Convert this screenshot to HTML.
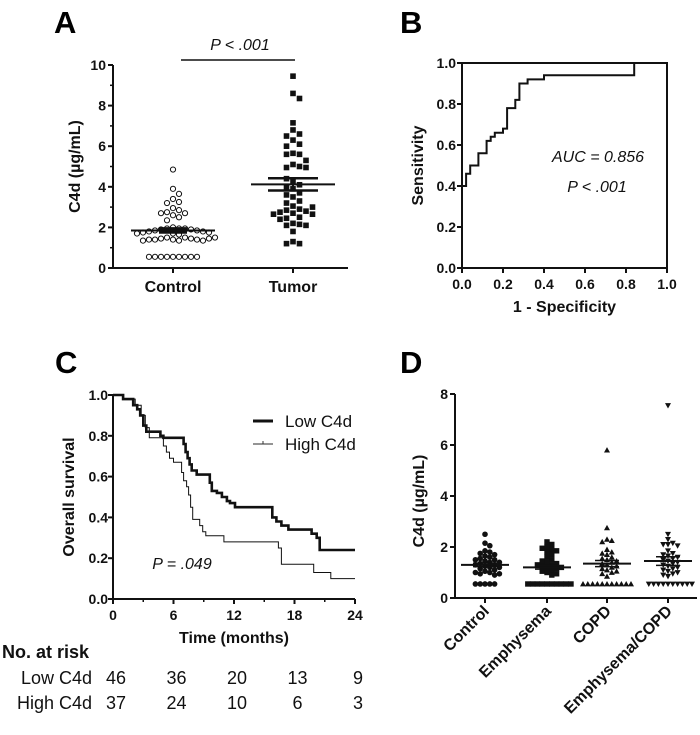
<!DOCTYPE html>
<html><head><meta charset="utf-8">
<style>
html,body{margin:0;padding:0;background:#fff;}
svg{display:block;font-family:"Liberation Sans",Arial,sans-serif;}
.t{font-size:14px;font-weight:bold;fill:#111;}
.ti{font-size:16px;font-weight:bold;fill:#111;}
.lab{font-size:31px;font-weight:bold;fill:#000;}
.it{font-size:16px;font-style:italic;fill:#111;}
.r{font-size:17px;fill:#111;}
.rr{font-size:18px;fill:#111;}
</style></head>
<body>
<svg id="fig" width="700" height="735" viewBox="0 0 700 735" xmlns="http://www.w3.org/2000/svg">
<g id="A"></g>
<g id="B"></g>
<g id="C"></g>
<g id="D"></g>
</svg>
<script>
// ---------- Panel A data ----------
const aCategories = ["Control","Tumor"];
const aControl = [4.85,3.9,3.65,3.4,3.25,3.2,2.95,2.85,2.75,2.7,2.7,2.6,2.5,2.35,2.0,1.95,1.95,1.95,1.9,1.9,1.85,1.85,1.8,1.8,1.75,1.75,1.7,1.7,1.65,1.5,1.5,1.45,1.45,1.4,1.4,1.4,1.4,1.35,1.35,1.35,1.45,1.5,0.55,0.55,0.55,0.55,0.55,0.55,0.55,0.55,0.55];
const aTumor = [9.45,8.6,8.35,7.15,6.8,6.6,6.5,6.3,6.1,5.65,5.6,5.6,5.1,5.0,4.95,4.95,4.3,4.1,4.0,3.9,3.7,3.5,3.3,3.05,2.9,2.85,2.8,2.75,2.7,2.65,2.65,2.5,2.45,2.2,2.15,2.1,2.1,1.8,1.3,1.2,1.2,3.6,4.4,3.2,2.4,5.3,6.0,3.0];
const aMeans = [1.85,4.12];
const aSem = [0.1,0.3];
const aYTicks = [0,2,4,6,8,10];
// ---------- Panel B data ----------
const bFpr = [0,0,0.02,0.02,0.04,0.04,0.08,0.08,0.12,0.12,0.14,0.14,0.16,0.16,0.2,0.2,0.22,0.22,0.26,0.26,0.28,0.28,0.32,0.32,0.4,0.4,0.84,0.84,1.0];
const bTpr = [0,0.4,0.4,0.46,0.46,0.5,0.5,0.56,0.56,0.62,0.62,0.64,0.64,0.66,0.66,0.68,0.68,0.78,0.78,0.82,0.82,0.9,0.9,0.92,0.92,0.94,0.94,1.0,1.0];
const bTicks = [0,0.2,0.4,0.6,0.8,1.0];
// ---------- Panel C data ----------
const cLowT = [0,1,2,2.4,2.7,3.0,3.3,4.7,5.0,7.0,7.2,7.4,7.6,7.8,8.3,9.6,9.8,10.3,10.8,11.3,11.6,12.1,15.8,16.2,16.7,17.4,19.7,20.2,20.5,24];
const cLowS = [1.0,0.98,0.95,0.93,0.9,0.85,0.82,0.8,0.79,0.76,0.72,0.69,0.66,0.63,0.61,0.57,0.53,0.52,0.5,0.48,0.47,0.45,0.4,0.38,0.36,0.34,0.32,0.3,0.24,0.24];
const cHighT = [0,1,2.2,2.8,3.2,3.6,5.0,5.3,5.6,6.0,6.8,7.0,7.3,7.5,7.7,7.9,8.6,8.9,9.2,11.0,16.4,16.7,19.9,21.6,24];
const cHighS = [1.0,0.98,0.95,0.9,0.84,0.79,0.75,0.72,0.69,0.67,0.62,0.58,0.55,0.51,0.45,0.39,0.36,0.33,0.31,0.28,0.25,0.17,0.13,0.1,0.1];
const cXTicks = [0,6,12,18,24];
const cYTicks = [0,0.2,0.4,0.6,0.8,1.0];
const cRiskLow = [46,36,20,13,9];
const cRiskHigh = [37,24,10,6,3];
// ---------- Panel D data ----------
const dCategories = ["Control","Emphysema","COPD","Emphysema/COPD"];
const dControl = [2.5,2.15,2.05,1.85,1.8,1.75,1.7,1.65,1.6,1.55,1.5,1.5,1.45,1.4,1.4,1.35,1.3,1.3,1.25,1.2,1.2,1.15,1.1,1.05,1.0,1.0,0.95,0.95,0.9,0.55,0.55,0.55,0.55,0.55];
const dEmph = [2.2,2.1,2.0,1.95,1.9,1.85,1.8,1.7,1.6,1.5,1.45,1.4,1.35,1.3,1.3,1.25,1.2,1.2,1.15,1.1,1.05,1.0,0.95,0.9,0.55,0.55,0.55,0.55,0.55,0.55,0.55,0.55,0.55,0.55];
const dCopd = [5.8,2.75,2.3,2.25,2.2,1.9,1.8,1.75,1.7,1.6,1.55,1.5,1.45,1.4,1.35,1.3,1.25,1.2,1.15,1.1,1.05,1.0,0.95,0.85,0.55,0.55,0.55,0.55,0.55,0.55,0.55,0.55,0.55,0.55,0.55];
const dEC = [7.55,2.5,2.3,2.15,2.1,2.1,2.05,1.85,1.75,1.7,1.65,1.6,1.55,1.5,1.45,1.4,1.35,1.3,1.25,1.2,1.15,1.1,1.05,1.0,0.95,0.9,0.85,0.55,0.55,0.55,0.55,0.55,0.55,0.55,0.55,0.55,0.55];
const dMeans = [1.3,1.2,1.35,1.45];
const dSem = [0.07,0.07,0.12,0.17];
const dYTicks = [0,2,4,6,8];

const NS="http://www.w3.org/2000/svg";
function mk(parent,tag,attrs,text){const e=document.createElementNS(NS,tag);for(const k in attrs)e.setAttribute(k,attrs[k]);if(text!==undefined)e.textContent=text;parent.appendChild(e);return e;}

function swarm(vals,cx,ys,d,step){
  const placed=[];const xs=[];
  vals.forEach(v=>{const y=ys(v);let k=0;let x=cx;
    while(true){const off=Math.ceil(k/2)*step*(k%2?1:-1);x=cx+off;
      if(!placed.some(p=>Math.hypot(p[0]-x,p[1]-y)<d))break;k++;if(k>80)break;}
    placed.push([x,y]);xs.push(x);});
  return xs;
}

// ================= Panel A =================
(function(){
const g=document.getElementById('A');
const x0=113,x1=348,y0=268,yTop=65;
const ys=v=>y0-(v/10)*(y0-yTop);
const xc=[173,293];
let t=mk(g,'text',{x:54,y:33,class:'lab'},'A');

let ax=mk(g,'path',{d:`M${x0} ${yTop}V${y0}H${x1}`,stroke:'#111','stroke-width':2,fill:'none'});

for(let v=1;v<10;v+=2){mk(g,'line',{x1:x0-3,x2:x0,y1:ys(v),y2:ys(v),stroke:'#111','stroke-width':1.5});}
aYTicks.forEach(v=>{mk(g,'line',{x1:x0-5,x2:x0,y1:ys(v),y2:ys(v),stroke:'#111','stroke-width':2});
 const l=mk(g,'text',{x:x0-7,y:ys(v)+5,class:'t','text-anchor':'end'},String(v));
 });
aCategories.forEach((c,i)=>{mk(g,'line',{x1:xc[i],x2:xc[i],y1:y0,y2:y0+5,stroke:'#111','stroke-width':2});
 const l=mk(g,'text',{x:xc[i],y:y0+24,class:'ti','text-anchor':'middle'},c);
 });
const yt=mk(g,'text',{transform:`translate(80,${(y0+yTop)/2}) rotate(-90)`,class:'ti','text-anchor':'middle'},'C4d (µg/mL)');

const xsC=swarm(aControl,xc[0],ys,6,6);
aControl.forEach((v,i)=>{const c=mk(g,'circle',{cx:xsC[i],cy:ys(v),r:2.6,fill:'#fff',stroke:'#111','stroke-width':1});
 });
const xsT=swarm(aTumor,xc[1],ys,6.5,6.5);
aTumor.forEach((v,i)=>{const r=mk(g,'rect',{x:xsT[i]-2.8,y:ys(v)-2.8,width:5.6,height:5.6,fill:'#111'});
 });
aMeans.forEach((m,i)=>{const w=42,cw=i?25:14;
 const ml=mk(g,'line',{x1:xc[i]-w,x2:xc[i]+w,y1:ys(m),y2:ys(m),stroke:'#111','stroke-width':2});
 
 mk(g,'line',{x1:xc[i],x2:xc[i],y1:ys(m+aSem[i]),y2:ys(m-aSem[i]),stroke:'#111','stroke-width':2});
 [1,-1].forEach(s=>mk(g,'line',{x1:xc[i]-cw,x2:xc[i]+cw,y1:ys(m+s*aSem[i]),y2:ys(m+s*aSem[i]),stroke:'#111','stroke-width':2.5}));});
mk(g,'line',{x1:181,x2:295,y1:60,y2:60,stroke:'#111','stroke-width':1.5});
const p=mk(g,'text',{x:240,y:50,class:'it','text-anchor':'middle'},'P < .001');

})();

// ================= Panel B =================
(function(){
const g=document.getElementById('B');
const x0=462,x1=667,y0=268,y1=63;
const xs=v=>x0+v*(x1-x0), ys=v=>y0-v*(y0-y1);
let t=mk(g,'text',{x:400,y:33,class:'lab'},'B');

const f=mk(g,'rect',{x:x0,y:y1,width:x1-x0,height:y0-y1,fill:'none',stroke:'#111','stroke-width':2});

bTicks.forEach(v=>{
 mk(g,'line',{x1:x0-5,x2:x0,y1:ys(v),y2:ys(v),stroke:'#111','stroke-width':2});
 mk(g,'line',{x1:xs(v),x2:xs(v),y1:y0,y2:y0+5,stroke:'#111','stroke-width':2});
 const a=mk(g,'text',{x:x0-6,y:ys(v)+5,class:'t','text-anchor':'end'},v.toFixed(1));
 
 const b=mk(g,'text',{x:xs(v),y:y0+21,class:'t','text-anchor':'middle'},v.toFixed(1));
 });
const xt=mk(g,'text',{x:(x0+x1)/2,y:y0+44,class:'ti','text-anchor':'middle'},'1 - Specificity');

const yt=mk(g,'text',{transform:`translate(423,${(y0+y1)/2}) rotate(-90)`,class:'ti','text-anchor':'middle'},'Sensitivity');

const d=bFpr.map((v,i)=>(i?'L':'M')+xs(v).toFixed(1)+' '+ys(bTpr[i]).toFixed(1)).join('');
const roc=mk(g,'path',{d:d,fill:'none',stroke:'#111','stroke-width':2});

const a1=mk(g,'text',{x:598,y:162,class:'it','text-anchor':'middle'},'AUC = 0.856');

const a2=mk(g,'text',{x:597,y:192,class:'it','text-anchor':'middle'},'P < .001');

})();

// ================= Panel C =================
(function(){
const g=document.getElementById('C');
const x0=113,x1=355,y0=599,y1=395;
const xs=v=>x0+v/24*(x1-x0), ys=v=>y0-v*(y0-y1);
let t=mk(g,'text',{x:55,y:373,class:'lab'},'C');

const ax=mk(g,'path',{d:`M${x0} ${y1}V${y0}H${x1}`,stroke:'#111','stroke-width':2,fill:'none'});

cYTicks.forEach(v=>{mk(g,'line',{x1:x0-5,x2:x0,y1:ys(v),y2:ys(v),stroke:'#111','stroke-width':2});
 const a=mk(g,'text',{x:x0-5,y:ys(v)+5,class:'t','text-anchor':'end'},v.toFixed(1));
 });
[3,9,15,21].forEach(v=>mk(g,'line',{x1:xs(v),x2:xs(v),y1:y0,y2:y0+3,stroke:'#111','stroke-width':1.5}));
cXTicks.forEach(v=>{mk(g,'line',{x1:xs(v),x2:xs(v),y1:y0,y2:y0+5,stroke:'#111','stroke-width':2});
 const a=mk(g,'text',{x:xs(v),y:y0+21,class:'t','text-anchor':'middle'},String(v));
 });
const xt=mk(g,'text',{x:234,y:y0+44,class:'ti','text-anchor':'middle'},'Time (months)');

const yt=mk(g,'text',{transform:`translate(74,${(y0+y1)/2}) rotate(-90)`,class:'ti','text-anchor':'middle'},'Overall survival');

function step(T,S){let d='M'+xs(T[0])+' '+ys(S[0]);for(let i=1;i<T.length;i++){d+='H'+xs(T[i]).toFixed(1)+'V'+ys(S[i]).toFixed(1);}return d;}
const hi=mk(g,'path',{d:step(cHighT,cHighS),fill:'none',stroke:'#111','stroke-width':1});

const lo=mk(g,'path',{d:step(cLowT,cLowS),fill:'none',stroke:'#111','stroke-width':2.6});

const l1=mk(g,'line',{x1:253,x2:273,y1:421,y2:421,stroke:'#111','stroke-width':3});

const t1=mk(g,'text',{x:285,y:427,class:'r'},'Low C4d');

const l2=mk(g,'line',{x1:253,x2:273,y1:444,y2:444,stroke:'#555','stroke-width':1.2});

mk(g,'line',{x1:263,x2:263,y1:441,y2:444,stroke:'#333','stroke-width':1});
const t2=mk(g,'text',{x:285,y:450,class:'r'},'High C4d');

const p=mk(g,'text',{x:182,y:569,class:'it','text-anchor':'middle'},'P = .049');

const rt=mk(g,'text',{x:2,y:658,style:'font-size:18px;font-weight:bold;fill:#111'},'No. at risk');

const r1=mk(g,'text',{x:92,y:684,class:'rr','text-anchor':'end'},'Low C4d');

const r2=mk(g,'text',{x:92,y:709,class:'rr','text-anchor':'end'},'High C4d');

cXTicks.forEach((v,i)=>{const x=xs(v)+3;
 const a=mk(g,'text',{x:x,y:684,class:'rr','text-anchor':'middle'},String(cRiskLow[i]));
 
 const b=mk(g,'text',{x:x,y:709,class:'rr','text-anchor':'middle'},String(cRiskHigh[i]));
 });
})();

// ================= Panel D =================
(function(){
const g=document.getElementById('D');
const x0=455,x1=697,y0=598,y1=394;
const ys=v=>y0-v/8*(y0-y1);
const xc=[485,547,607,668];
let t=mk(g,'text',{x:400,y:373,class:'lab'},'D');

const ax=mk(g,'path',{d:`M${x0} ${y1}V${y0}H${x1}`,stroke:'#111','stroke-width':2,fill:'none'});

dYTicks.forEach(v=>{mk(g,'line',{x1:x0-5,x2:x0,y1:ys(v),y2:ys(v),stroke:'#111','stroke-width':2});
 const a=mk(g,'text',{x:x0-7,y:ys(v)+5,class:'t','text-anchor':'end'},String(v));
 });
const yt=mk(g,'text',{transform:`translate(424,${(y0+y1)/2+5}) rotate(-90)`,class:'ti','text-anchor':'middle'},'C4d (µg/mL)');

dCategories.forEach((c,i)=>{mk(g,'line',{x1:xc[i],x2:xc[i],y1:y0,y2:y0+5,stroke:'#111','stroke-width':2});
 const a=mk(g,'text',{transform:`translate(${xc[i]+5},${y0+14}) rotate(-45)`,class:'ti','text-anchor':'end'},c);
 });
const groups=[dControl,dEmph,dCopd,dEC];
const s=3;
groups.forEach((arr,gi)=>{
 const xs=swarm(arr,xc[gi],ys,4.6,4.8);
 arr.forEach((v,i)=>{const x=xs[i],y=ys(v);let e;
  if(gi===0)e=mk(g,'circle',{cx:x,cy:y,r:2.8,fill:'#111'});
  else if(gi===1)e=mk(g,'rect',{x:x-2.7,y:y-2.7,width:5.4,height:5.4,fill:'#111'});
  else if(gi===2)e=mk(g,'path',{d:`M${x} ${y-s}L${x+s} ${y+s*0.8}L${x-s} ${y+s*0.8}Z`,fill:'#111'});
  else e=mk(g,'path',{d:`M${x} ${y+s}L${x+s} ${y-s*0.8}L${x-s} ${y-s*0.8}Z`,fill:'#111'});
  });
 const m=dMeans[gi];
 const ml=mk(g,'line',{x1:xc[gi]-24,x2:xc[gi]+24,y1:ys(m),y2:ys(m),stroke:'#111','stroke-width':2});
 
 [1,-1].forEach(k=>mk(g,'line',{x1:xc[gi]-12,x2:xc[gi]+12,y1:ys(m+k*dSem[gi]),y2:ys(m+k*dSem[gi]),stroke:'#111','stroke-width':1.5}));
});
})();
</script>
</body></html>
